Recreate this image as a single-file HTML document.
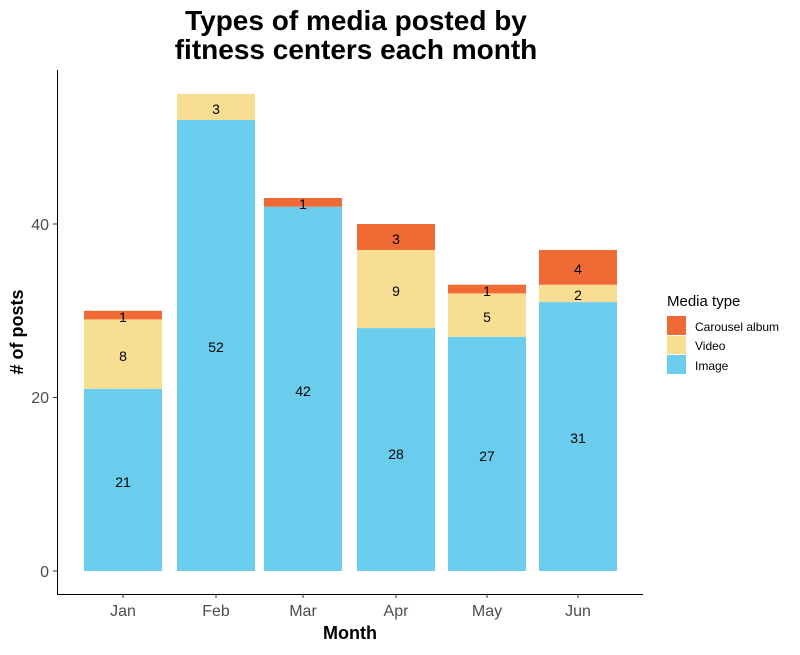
<!DOCTYPE html>
<html><head><style>body{margin:0;background:#fff}</style></head><body>
<svg width="800" height="650" xmlns="http://www.w3.org/2000/svg" font-family="Liberation Sans, Arial, sans-serif">
<rect width="800" height="650" fill="#fff"/>
<text x="356" y="30" font-size="28" font-weight="bold" text-anchor="middle">Types of media posted by</text>
<text x="356" y="59" font-size="28" font-weight="bold" text-anchor="middle">fitness centers each month</text>
<g id="bars">
<rect x="84" y="388.8" width="78" height="182.2" fill="#6BCDEE"/>
<rect x="84" y="319.4" width="78" height="69.4" fill="#F8DE93"/>
<rect x="84" y="310.8" width="78" height="8.6" fill="#F06A35"/>
<rect x="177" y="119.9" width="78" height="451.1" fill="#6BCDEE"/>
<rect x="177" y="93.9" width="78" height="26" fill="#F8DE93"/>
<rect x="264" y="206.7" width="78" height="364.3" fill="#6BCDEE"/>
<rect x="264" y="198" width="78" height="8.7" fill="#F06A35"/>
<rect x="357" y="328.1" width="78" height="242.9" fill="#6BCDEE"/>
<rect x="357" y="250" width="78" height="78.1" fill="#F8DE93"/>
<rect x="357" y="224" width="78" height="26" fill="#F06A35"/>
<rect x="448" y="336.8" width="78" height="234.2" fill="#6BCDEE"/>
<rect x="448" y="293.4" width="78" height="43.4" fill="#F8DE93"/>
<rect x="448" y="284.7" width="78" height="8.7" fill="#F06A35"/>
<rect x="539" y="302.1" width="78" height="268.9" fill="#6BCDEE"/>
<rect x="539" y="284.7" width="78" height="17.4" fill="#F8DE93"/>
<rect x="539" y="250" width="78" height="34.7" fill="#F06A35"/>
</g>
<g font-size="14" text-anchor="middle" fill="#000">
<text x="123" y="487">21</text><text x="123" y="361">8</text><text x="123" y="322">1</text>
<text x="216" y="352">52</text><text x="216" y="114">3</text>
<text x="303" y="396">42</text><text x="303" y="209">1</text>
<text x="396" y="459">28</text><text x="396" y="296">9</text><text x="396" y="244">3</text>
<text x="487" y="461">27</text><text x="487" y="322">5</text><text x="487" y="296">1</text>
<text x="578" y="443">31</text><text x="578" y="300">2</text><text x="578" y="274">4</text>
</g>
<line x1="57.5" y1="70" x2="57.5" y2="594" stroke="#000" stroke-width="1"/>
<line x1="57" y1="594.5" x2="643" y2="594.5" stroke="#000" stroke-width="1"/>
<g stroke="#333"><line x1="53" y1="571" x2="57" y2="571"/><line x1="53" y1="397.5" x2="57" y2="397.5"/><line x1="53" y1="224" x2="57" y2="224"/>
<line x1="123" y1="594" x2="123" y2="598"/><line x1="216" y1="594" x2="216" y2="598"/><line x1="303" y1="594" x2="303" y2="598"/><line x1="396" y1="594" x2="396" y2="598"/><line x1="487" y1="594" x2="487" y2="598"/><line x1="578" y1="594" x2="578" y2="598"/></g>
<g font-size="16" fill="#4d4d4d" text-anchor="end"><text x="49" y="577">0</text><text x="49" y="403">20</text><text x="49" y="230">40</text></g>
<g font-size="16" fill="#4d4d4d" text-anchor="middle"><text x="123" y="616">Jan</text><text x="216" y="616">Feb</text><text x="303" y="616">Mar</text><text x="396" y="616">Apr</text><text x="487" y="616">May</text><text x="578" y="616">Jun</text></g>
<text x="350" y="639" font-size="18" font-weight="bold" text-anchor="middle">Month</text>
<text transform="translate(23,332) rotate(-90)" font-size="18" font-weight="bold" text-anchor="middle"># of posts</text>
<text x="667" y="306" font-size="15">Media type</text>
<rect x="667" y="316" width="19" height="19" fill="#F06A35"/>
<rect x="667" y="336" width="19" height="18" fill="#F8DE93"/>
<rect x="667" y="355" width="19" height="19" fill="#6BCDEE"/>
<g font-size="12"><text x="695" y="331">Carousel album</text><text x="695" y="350">Video</text><text x="695" y="370">Image</text></g>
</svg>
</body></html>
